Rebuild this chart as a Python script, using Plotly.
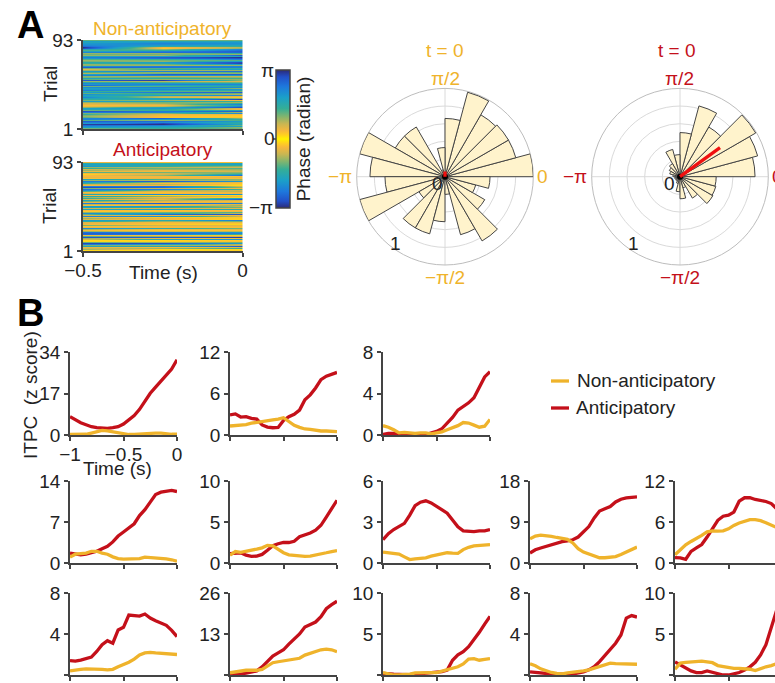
import plotly.graph_objects as go

W, H = 775, 683
YEL = "#EFB32B"
RED = "#C4101A"
AX = "#444444"
FONT = "Liberation Sans, Arial, sans-serif"
PI = 3.14159265

# ---------- Phase colour scale (fraction of the -pi..pi range -> colour)
PHASE_SCALE = [
    [0.00, "#2B2A78"], [0.05, "#2250C8"], [0.12, "#1E78DC"], [0.20, "#1BA0C8"],
    [0.28, "#35AE96"], [0.34, "#86B56C"], [0.39, "#C9B652"], [0.44, "#F6B83C"], [0.47, "#FFD020"],
    [0.50, "#FFF200"],
    [0.53, "#FFD020"], [0.56, "#F6B83C"], [0.61, "#C9B652"], [0.66, "#86B56C"], [0.72, "#35AE96"],
    [0.80, "#1BA0C8"], [0.88, "#1E78DC"], [0.95, "#2250C8"], [1.00, "#2B2A78"],
]

# ---------- Panel A heatmaps, trial 93 (top) down to trial 1, phase/pi at t=-0.5,-0.25,0
TIME_A = [-0.5, -0.25, 0.0]
NONANT_PHASE = [
 [.38,.35,.35],[.60,.55,.55],[.55,.65,.62],[.62,.72,.65],[.65,.68,.62],[.70,.62,.55],[.80,.50,.45],
 [.98,.12,.25],[.92,.08,.30],[.55,.30,.72],[.40,.45,.80],[.55,.72,.85],[.70,.80,.82],[.30,.30,.45],
 [.35,.35,.30],[.42,.55,.70],[.30,.28,.88],[.55,.60,.55],[.72,.85,.98],[.62,.80,.90],[.40,.45,.75],
 [.28,.35,.40],[.35,.30,.62],[.50,.60,.92],[.45,.55,.95],[.30,.35,.60],[.32,.28,.30],[.65,.75,.70],
 [.85,.78,.72],[.35,.40,.45],[.15,.50,.60],[.30,.28,.30],[.62,.72,.80],[.42,.30,.40],[.25,.35,.30],
 [.55,.85,.85],[.72,.70,.62],[.32,.25,.22],[.35,.38,.30],[.58,.45,.42],[.40,.30,.30],[.85,.95,.30],
 [.30,.25,.18],[.50,.40,.35],[.70,.62,.55],[.62,.72,.70],[.28,.35,.30],[.82,.55,.60],[.35,.40,.50],
 [.68,.72,.68],[.58,.62,.30],[.62,.70,.62],[.75,.55,.50],[.45,.40,.35],[.60,.78,.85],[.38,.45,.35],
 [.68,.40,.25],[.55,.60,.70],[.62,.25,.15],[.72,.20,.08],[.55,.55,.30],[.45,.55,.95],[.35,.30,.10],
 [.62,.55,.42],[.30,.35,.28],[.18,.30,.45],[.15,.20,.75],[.10,.12,.55],[.14,.22,.72],[.30,.55,.90],
 [.60,.65,.15],[.55,.50,.10],[.35,.45,.55],[.90,.75,.85],[.75,.72,.25],[.35,.30,.70],[.42,.20,.18],
 [.45,.15,.12],[.35,.12,.08],[.30,.10,.06],[.38,.08,.10],[.70,.85,.30],[.72,.58,.45],[.40,.30,.42],
 [.85,.80,.60],[.75,.70,.50],[.60,.92,.45],[.95,.98,.55],[.80,.75,.35],[.68,.60,.58],[.60,.55,.30],
 [.35,.45,.35],[.70,.62,.55],
]
ANT_PHASE = [
 [.15,.10,.10],[.50,.45,.55],[.60,.55,.60],[.55,.50,.45],[.65,.45,.30],[.30,.25,.20],[.45,.35,.40],
 [.20,.30,.30],[.30,.15,.25],[.15,.12,.20],[.40,.35,.30],[.12,.20,.40],[.05,.20,.55],[.10,.30,.80],
 [.12,.12,.10],[.10,.10,.08],[.15,.12,.15],[.10,.15,.10],[.55,.40,.30],[.30,.25,.28],[.72,.88,.62],
 [.62,.30,.15],[.45,.12,.10],[.22,.25,.06],[.12,.12,.04],[.70,.78,.18],[.90,.80,.30],[.35,.20,.12],
 [.78,.72,.40],[.70,.30,.20],[.40,.15,.25],[.12,.10,.15],[.20,.12,.12],[.50,.70,.65],[.12,.05,.05],
 [.55,.30,.12],[.30,.12,.05],[.45,.20,.55],[.20,.15,.90],[.55,.25,.20],[.35,.15,.10],[.15,.12,.18],
 [.72,.85,.70],[.25,.18,.15],[.10,.12,.30],[.62,.62,.20],[.90,.82,.75],[.55,.45,.35],[.20,.15,.15],
 [.55,.55,.50],[.12,.10,.12],[.08,.10,.15],[.30,.35,.40],[.68,.55,.20],[.35,.80,.90],[.20,.15,.12],
 [.72,.65,.20],[.15,.08,.08],[.30,.15,.06],[.20,.12,.05],[.62,.50,.75],[.50,.30,.35],[.18,.12,.15],
 [.15,.10,.08],[.12,.08,.05],[.35,.20,.15],[.10,.12,.12],[.15,.12,.10],[.70,.50,.35],[.30,.15,.18],
 [.12,.08,.10],[.30,.20,.25],[.78,.72,.60],[.85,.82,.72],[.80,.75,.40],[.12,.10,.08],[.08,.06,.10],
 [.40,.30,.20],[.88,.85,.95],[.30,.12,.10],[.18,.55,.65],[.05,.05,.08],[.05,.06,.10],[.38,.30,.35],
 [.92,.90,.60],[.75,.60,.22],[.35,.30,.22],[.55,.50,.88],[.15,.12,.18],[.20,.30,.45],[.30,.05,.05],
 [.05,.04,.06],[.10,.05,.04],
]
TRIALS = list(range(93, 0, -1))

# ---------- Panel A rose histograms (bin centre in degrees, normalised count)
THETA = [7.5,22.5,37.5,52.5,67.5,82.5,97.5,112.5,127.5,142.5,157.5,172.5,
         187.5,202.5,217.5,232.5,247.5,262.5,277.5,292.5,307.5,322.5,337.5,352.5]
BIN_WIDTH = 15
ROSE_NON = [1.0,.83,.83,.81,.99,.66,.33,.08,.65,.65,1.0,.85,
            .68,1.0,.34,.67,.67,.51,.20,.68,.84,.52,.36,.51]
ROSE_ANT = [.85,.91,.99,.65,.83,.50,.25,.32,.17,.14,.12,.08,
            .06,.06,.05,.06,.08,.17,.25,.13,.28,.43,.42,.41]
MEAN_NON = [0.06, 90]
MEAN_ANT = [0.56, 36]

# ---------- Panel B traces, every 0.05 s from -1 to 0
T = [-1.0,-.95,-.9,-.85,-.8,-.75,-.7,-.65,-.6,-.55,-.5,-.45,-.4,-.35,-.3,-.25,-.2,-.15,-.1,-.05,0.0]

A1 = [7.5,6.2,5,4.2,3.4,3,2.7,2.7,3,3.4,4.5,6.2,8,10.5,13.7,17.1,19.6,22.2,24.4,27,30.8]
N1 = [.2,.2,.2,.3,.8,1.5,1.9,1.7,1.3,.8,.4,.2,.2,.4,.5,.7,.8,.8,.5,.3,.3]
A2 = [2.9,3.05,2.6,2.66,2.4,2.3,1.45,1.15,1.05,1.1,2.1,2.65,3,3.6,5.1,5.8,6.8,8,8.5,8.75,9.05]
N2 = [1.3,1.35,1.4,1.5,1.7,1.85,2,2.1,2.2,2.3,2.5,1.95,1.4,1.1,.87,.82,.68,.58,.58,.58,.5]
A3 = [.05,.15,.15,.05,.02,.02,0,0,.05,.2,.35,.6,1.1,1.7,2.4,2.75,3.1,3.6,4.6,5.6,6.1]
N3 = [.9,.75,.5,.2,.25,.2,.15,.2,.2,.1,.2,.3,.5,.7,.9,1.2,1.15,.95,.75,.85,1.5]

A4 = [1.7,1.6,1.4,1.5,1.75,2,2.45,2.85,3.6,4.6,5.3,6,6.7,8.1,9.1,10.4,11.7,12.1,12.3,12.4,12.2]
N4 = [1.0,1.5,1.6,1.7,2,2,1.7,1.5,1.05,.75,.65,.7,.7,.75,1.0,.95,.85,.75,.7,.55,.3]
A5 = [1.15,1.2,1.25,.95,.8,.85,1.05,1.55,2.1,2.35,2.5,2.5,2.65,3.2,3.4,3.65,4,4.6,5.6,6.6,7.65]
N5 = [.95,1.4,1.3,1.4,1.55,1.7,1.85,2.15,2.1,1.65,1.25,1,.9,.8,.8,.85,.95,1.05,1.25,1.4,1.5]
A6 = [1.7,2.15,2.45,2.65,2.9,3.5,4.2,4.45,4.55,4.4,4.15,3.9,3.65,3.15,2.65,2.35,2.3,2.3,2.35,2.35,2.45]
N6 = [.8,.75,.7,.65,.45,.25,.3,.33,.38,.5,.6,.7,.75,.72,.7,.98,1.15,1.25,1.3,1.35,1.35]
A7 = [2.2,2.9,3.3,3.65,4.1,4.45,4.7,4.85,5.1,5.7,6.8,8,9.9,11.4,11.9,12.4,13.4,14,14.3,14.4,14.5]
N7 = [5.3,5.9,6.1,6.05,5.85,5.6,5.4,5.2,4.4,3.15,2.4,2,1.45,1.15,1.15,1.25,1.4,1.85,2.4,3,3.5]
A8 = [.8,.75,.55,1.7,2.2,2.7,3.8,5,6.25,6.85,7,7.45,9.05,9.55,9.55,9.3,9.15,9,8.7,7.95,7.2]
N8 = [1.2,1.95,2.65,3.15,3.55,4.05,4.55,4.7,4.65,4.7,5,5.5,5.85,6.15,6.35,6.35,6.2,5.9,5.5,5.15,4.85]

A9 = [1.4,1.35,1.45,1.6,1.75,2.3,2.95,3.35,3.1,4.4,4.65,5.85,5.8,5.75,5.95,5.55,5.3,5.1,4.85,4.35,3.75]
N9 = [.4,.5,.55,.6,.6,.6,.55,.5,.55,.8,1,1.25,1.55,1.95,2.15,2.2,2.15,2.1,2.05,2,2]
A10 = [0,.05,.3,.6,.9,1.3,2.6,4.2,6,7,8,9.8,11.5,13,15.2,16,16.8,18.5,21,22.3,23.4]
N10 = [.7,1,1.35,1.5,1.5,1.5,1.8,3,3.9,4.2,4.5,4.9,5.2,5.3,6.3,6.9,7.4,8,8.2,8,7.4]
A11 = [.2,.1,.1,.08,.05,.05,.1,.15,.2,.2,.25,.4,.6,1.8,2.45,2.85,3.45,4.3,5.2,6.2,7.15]
N11 = [.3,.1,0,0,0,.1,.25,.3,.3,.3,.3,.45,.6,.8,1,1.35,1.95,2,1.8,1.9,2]
A12 = [.3,.25,.2,.12,.1,.1,.05,.05,.1,.2,.3,.5,.8,1.3,1.9,2.45,3.1,3.9,5.55,5.8,5.65]
N12 = [1.1,.9,.6,.4,.25,.15,.1,.2,.25,.3,.4,.5,.65,.85,1,1.15,1.1,1.1,1.1,1.1,1.05]
A13 = [1.6,1.2,.8,.5,.3,.3,.5,.3,.1,0,0,.1,.3,.6,1,1.55,2.45,3.7,5.7,7.8,10]
N13 = [.7,1.45,1.55,1.6,1.6,1.7,1.6,1.5,1.15,1,.9,.8,.8,.8,.7,.55,.8,1,1.15,1.4,1.6]

PANELS = [
    (A1, N1, [0, 17, 34]), (A2, N2, [0, 6, 12]), (A3, N3, [0, 4, 8]),
    (A4, N4, [0, 7, 14]), (A5, N5, [0, 5, 10]), (A6, N6, [0, 3, 6]), (A7, N7, [0, 9, 18]), (A8, N8, [0, 6, 12]),
    (A9, N9, [0, 4, 8]), (A10, N10, [0, 13, 26]), (A11, N11, [0, 5, 10]), (A12, N12, [0, 4, 8]), (A13, N13, [0, 5, 10]),
]
# left, right pixel of each panel and top, bottom pixel of each row
COLS = [(70, 177), (230, 337), (383, 490), (530, 637), (675, 782)]
ROWS = [(352, 435), (481, 563), (593, 675)]
SLOTS = [(0, 0), (0, 1), (0, 2),
         (1, 0), (1, 1), (1, 2), (1, 3), (1, 4),
         (2, 0), (2, 1), (2, 2), (2, 3), (2, 4)]


def fx(p):
    return p / W


def fy(p):
    return 1 - p / H


fig = go.Figure()
layout = dict(
    width=W, height=H, margin=dict(l=0, r=0, t=0, b=0, pad=0, autoexpand=False),
    paper_bgcolor="white", plot_bgcolor="white", showlegend=False,
    font=dict(family=FONT, size=19, color="#222222"),
)
axis_common = dict(showgrid=False, zeroline=False, showline=True, linecolor=AX, linewidth=1.5,
                   ticks="outside", ticklen=4, tickwidth=1.5, tickcolor=AX,
                   tickfont=dict(family=FONT, size=19, color="#222222"))
n_ax = 0


def new_axes(left, right, top, bottom, xcfg, ycfg):
    global n_ax
    n_ax += 1
    sfx = "" if n_ax == 1 else str(n_ax)
    layout["xaxis" + sfx] = dict(domain=[fx(left), fx(right)], anchor="y" + sfx, ticklabelstandoff=-3, **axis_common, **xcfg)
    layout["yaxis" + sfx] = dict(domain=[fy(bottom), fy(top)], anchor="x" + sfx, **axis_common, **ycfg)
    return "x" + sfx, "y" + sfx


# --- Panel A heatmaps
for i, (rows, top, bottom) in enumerate([(NONANT_PHASE, 40, 129), (ANT_PHASE, 162, 251)]):
    xa, ya = new_axes(83, 242.5, top, bottom,
                      dict(range=[-0.5, 0], tickvals=[-0.5, 0], ticktext=["−0.5", "0"], showticklabels=i == 1),
                      dict(range=[1, 93], tickvals=[1, 93], ticktext=["1", "93"]))
    z = [[v * PI for v in r] for r in rows]
    tr = dict(x=TIME_A, y=TRIALS, z=z, xaxis=xa, yaxis=ya, zmin=-PI, zmax=PI,
              colorscale=PHASE_SCALE, zsmooth="best", showscale=False)
    if i == 0:
        tr.update(showscale=True, colorbar=dict(
            x=fx(276), xanchor="left", xpad=0, thickness=14, thicknessmode="pixels",
            len=138, lenmode="pixels", y=fy(70), yanchor="top", ypad=0,
            outlinecolor=AX, outlinewidth=1.5, ticks="", showticklabels=False,
            title=dict(text="Phase (radian)", side="right", font=dict(family=FONT, size=19, color="#222222"))))
    fig.add_trace(go.Heatmap(**tr))

# --- Panel B line charts
for (ant, non, ticks), (r, c) in zip(PANELS, SLOTS):
    left, right = COLS[c]
    top, bottom = ROWS[r]
    x_max = -1 + (min(right, W) - left) / (right - left)
    first = r == 0 and c == 0
    xa, ya = new_axes(left, min(right, W), top, bottom,
                      dict(range=[-1, x_max], tickvals=[-1, -0.5, 0], ticktext=["−1", "−0.5", "0"],
                           showticklabels=first),
                      dict(range=[0, ticks[-1]], tickvals=ticks))
    fig.add_trace(go.Scatter(x=T, y=ant, mode="lines", name="Anticipatory", xaxis=xa, yaxis=ya,
                             line=dict(color=RED, width=3.3), cliponaxis=False))
    fig.add_trace(go.Scatter(x=T, y=non, mode="lines", name="Non-anticipatory", xaxis=xa, yaxis=ya,
                             line=dict(color=YEL, width=3.3), cliponaxis=False))

# --- Panel A roses
for name, cx, rose, mean in [("polar", 445, ROSE_NON, MEAN_NON), ("polar2", 680, ROSE_ANT, MEAN_ANT)]:
    R = 88.3
    layout[name] = dict(
        domain=dict(x=[fx(cx - R), fx(cx + R)], y=[fy(176.7 + R), fy(176.7 - R)]),
        bgcolor="white",
        radialaxis=dict(range=[0, 1], tickvals=[.2, .4, .6, .8, 1], showticklabels=False, ticks="",
                        showline=False, gridcolor="#DADADA", gridwidth=1, layer="below traces"),
        angularaxis=dict(direction="counterclockwise", rotation=0, tickvals=[0, 90, 180, 270],
                         showticklabels=False, ticks="", showline=True, linecolor="#BDBDBD",
                         linewidth=1, gridcolor="#DADADA", gridwidth=1, layer="below traces"),
    )
    fig.add_trace(go.Barpolar(theta=THETA, r=rose, width=[BIN_WIDTH] * len(THETA), subplot=name,
                              marker=dict(color="#FFF3CC", line=dict(color="#444444", width=1))))
    fig.add_trace(go.Scatterpolar(r=[0], theta=[0], mode="markers", subplot=name,
                                  marker=dict(color="black", size=6)))
    fig.add_trace(go.Scatterpolar(r=[0, mean[0]], theta=[mean[1], mean[1]], mode="lines", subplot=name,
                                  line=dict(color="#F01010", width=3.3)))


def text(x, y, s, size=19, color="#222222", angle=0, bold=False):
    return dict(x=fx(x), y=fy(y), xref="paper", yref="paper", text=f"<b>{s}</b>" if bold else s,
                showarrow=False, xanchor="center", yanchor="middle", textangle=angle,
                font=dict(family=FONT, size=size, color=color))


layout["annotations"] = [
    text(30, 25, "A", 38, "black", bold=True), text(30, 313, "B", 38, "black", bold=True),
    text(162, 28, "Non-anticipatory", 19, YEL), text(163, 150, "Anticipatory", 19, RED),
    text(50, 84, "Trial", angle=-90), text(50, 206, "Trial", angle=-90),
    text(163, 272, "Time (s)"), text(117, 468, "Time (s)"),
    text(30, 395, "ITPC&nbsp;&nbsp;(z score)", angle=-90),
    text(267, 71, "π"), text(269, 139, "0"), text(261, 207, "−π"),
    text(445, 50, "t = 0", 19, YEL), text(677, 50, "t = 0", 19, RED),
    text(445, 79, "π/2", 19, YEL), text(445, 278, "−π/2", 19, YEL),
    text(542, 176, "0", 19, YEL), text(340, 176, "−π", 19, YEL),
    text(679, 79, "π/2", 19, RED), text(680, 278, "−π/2", 19, RED),
    text(575, 176, "−π", 19, RED), text(777, 176, "0", 19, RED),
    text(437, 183, "0"), text(669, 183, "0"), text(395, 243, "1"), text(633, 243, "1"),
    text(646, 380, "Non-anticipatory", 19), text(626, 407, "Anticipatory", 19),
]
layout["shapes"] = [
    dict(type="line", xref="paper", yref="paper", x0=fx(551), x1=fx(569), y0=fy(381), y1=fy(381),
         line=dict(color=YEL, width=3.3)),
    dict(type="line", xref="paper", yref="paper", x0=fx(551), x1=fx(569), y0=fy(408), y1=fy(408),
         line=dict(color=RED, width=3.3)),
    dict(type="line", xref="paper", yref="paper", x0=fx(273), x1=fx(277), y0=fy(139), y1=fy(139),
         line=dict(color=AX, width=1.5)),
]
fig.update_layout(**layout)
fig.write_html("out.html", config={"displayModeBar": False},
               post_script="document.body.style.margin='0';document.body.style.overflow='hidden';")
